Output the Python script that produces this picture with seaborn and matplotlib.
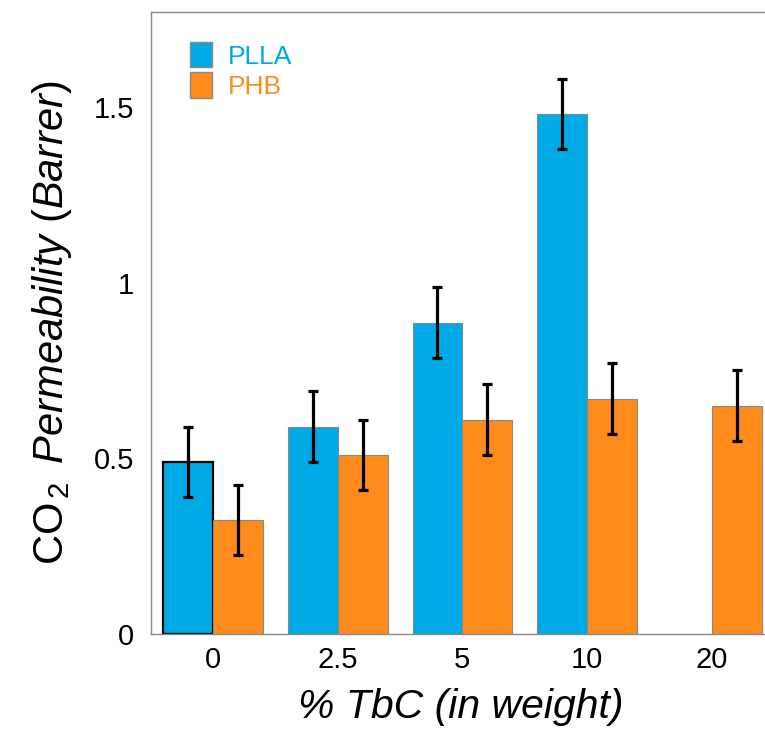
import matplotlib
matplotlib.use("Agg")
import matplotlib.pyplot as plt
import matplotlib.patches as mpatches
import seaborn as sns
import pandas as pd
import numpy as np

# Data
tbc = ['0', '2.5', '5', '10', '20']
plla = [0.49, 0.59, 0.886, 1.48, np.nan]
phb = [0.325, 0.51, 0.61, 0.67, 0.65]
plla_err = [0.10, 0.10, 0.10, 0.10, np.nan]
phb_err = [0.10, 0.10, 0.10, 0.10, 0.10]
series = ['PLLA', 'PHB']
colors = ['#00AAE6', '#FF8B1C']

dados = pd.DataFrame({
    'TbC': tbc * 2,
    'Perm': plla + phb,
    'Polimero': ['PLLA'] * 5 + ['PHB'] * 5,
})

sns.set_style("white")
plt.rcParams['font.family'] = ['Liberation Sans', 'DejaVu Sans']
plt.rcParams['mathtext.fontset'] = 'custom'
plt.rcParams['mathtext.rm'] = 'Liberation Sans'
plt.rcParams['mathtext.it'] = 'Liberation Sans:italic'

fig = plt.figure(figsize=(7.65, 7.31), dpi=100)
ax = fig.add_axes([0.197, 0.1327, 0.81, 0.851])

sns.barplot(data=dados, x='TbC', y='Perm', hue='Polimero', order=tbc,
            hue_order=series, palette=colors, width=0.8, saturation=1,
            edgecolor='#888888', linewidth=0.8, legend=False, ax=ax)

# error bars on top of each bar (seaborn skips the NaN bar)
for cont, vals, err in zip(ax.containers, [plla, phb], [plla_err, phb_err]):
    e = [x for v, x in zip(vals, err) if not np.isnan(v)]
    xs = [b.get_x() + b.get_width() / 2 for b in cont]
    ys = [b.get_height() for b in cont]
    ax.errorbar(xs, ys, yerr=e, fmt='none', ecolor='black',
                elinewidth=2.3, capsize=3.8, capthick=2.3, zorder=5)

# first PLLA bar has a dark outline in the original
ax.containers[0][0].set_edgecolor('black')
ax.containers[0][0].set_linewidth(1.6)

ax.set_xlim(-0.5, 4.47)
ax.set_ylim(0, 1.77)
ax.set_yticks([0, 0.5, 1, 1.5])
ax.set_yticklabels(['0', '0.5', '1', '1.5'])
ax.tick_params(axis='both', length=0, labelsize=21, colors='black')
ax.tick_params(axis='y', pad=12)
ax.tick_params(axis='x', pad=9)

for s in ['left', 'top', 'bottom']:
    ax.spines[s].set_color('#8a8a8a')
    ax.spines[s].set_linewidth(1.0)
ax.spines['right'].set_visible(False)

ax.set_xlabel('% TbC (in weight)', fontsize=29.5, style='italic',
              color='black', labelpad=10)
ax.set_ylabel(r'CO$_{\,2}$$\,$ $\mathit{Permeability\ (Barrer)}$', fontsize=30,
              color='black', labelpad=14)

handles = [mpatches.Patch(facecolor=c, edgecolor='#888888') for c in colors]
ax.legend(handles, series, loc='upper left', bbox_to_anchor=(0.025, 0.99),
          frameon=False, fontsize=19, labelcolor=colors, handlelength=0.85,
          handleheight=1.1, handletextpad=0.6, labelspacing=0.15)

fig.savefig('out.png', dpi=100)
